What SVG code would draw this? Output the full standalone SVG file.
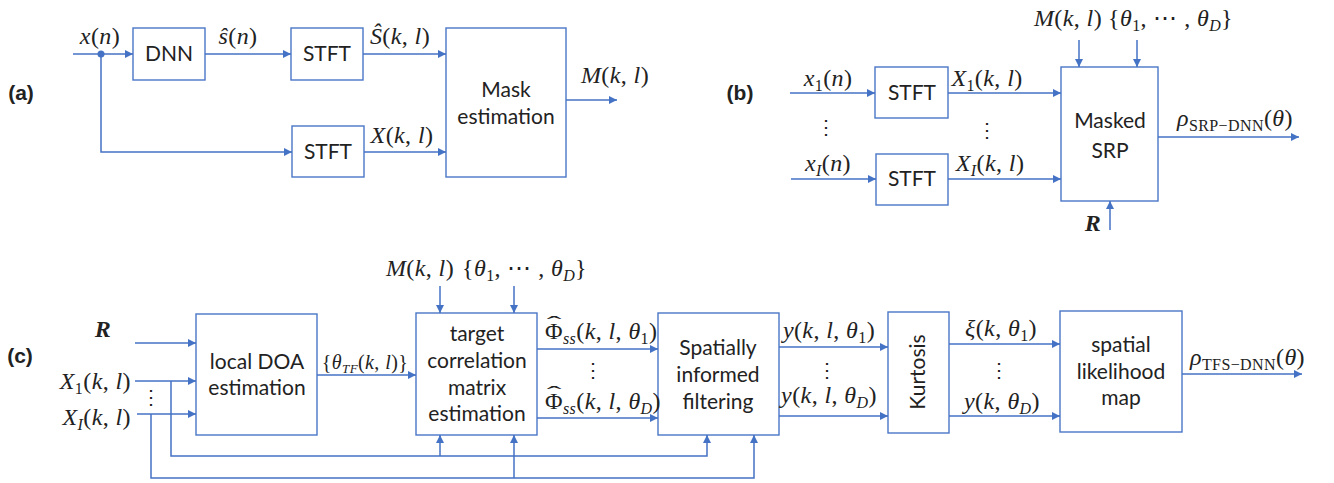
<svg xmlns="http://www.w3.org/2000/svg" width="1334" height="483" viewBox="0 0 1334 483">
  <style>
    .box { fill: #ffffff; stroke: #4a76c6; stroke-width: 1.4; }
    .wire { fill: none; stroke: #4472c4; stroke-width: 1.5; }
    .arr { marker-end: url(#head); }
    .lbl { font-family: Lato, "Liberation Sans", sans-serif; font-size: 21px; fill: #222222; text-anchor: middle; }
    .tag { font-family: "Liberation Sans", Arial, sans-serif; font-size: 21px; font-weight: bold; fill: #222222; text-anchor: middle; }
    .m { font-family: "Liberation Serif", "DejaVu Serif", serif; font-size: 24px; letter-spacing: 0.4px; fill: #222222; }
    .i { font-style: italic; }
    .s { font-size: 16px; }
    .sub { font-size: 16px; font-style: italic; }
    .c { text-anchor: middle; }
    .e { text-anchor: end; }
    .b { font-weight: bold; font-style: italic; }
    .hat { font-family: "Liberation Serif", serif; font-size: 22px; fill: #222222; text-anchor: middle; }
  </style>
  <defs>
    <marker id="head" viewBox="0 0 10 10" refX="10" refY="5" markerUnits="userSpaceOnUse" markerWidth="9" markerHeight="8" orient="auto">
      <path d="M0,0 L10,5 L0,10 z" fill="#4472c4"/>
    </marker>
  </defs>

  <!-- panel tags -->
  <text class="tag" x="21" y="100">(a)</text>
  <text class="tag" x="740" y="100">(b)</text>
  <text class="tag" x="20" y="363">(c)</text>

  <!-- ===== (a) mask estimation ===== -->
  <g id="a-dnn"><rect class="box" x="133" y="28" width="72" height="52"/><text class="lbl" x="169" y="61">DNN</text></g>
  <g id="a-stft1"><rect class="box" x="291" y="28" width="72" height="52"/><text class="lbl" x="327" y="61">STFT</text></g>
  <g id="a-stft2"><rect class="box" x="292" y="126" width="72" height="51"/><text class="lbl" x="328" y="159">STFT</text></g>
  <g id="a-mask"><rect class="box" x="446" y="28" width="120" height="149"/><text class="lbl" x="506" y="97">Mask</text><text class="lbl" x="506" y="124">estimation</text></g>

  <g id="a-labels">
    <text class="m c" x="100" y="44"><tspan class="i">x</tspan>(<tspan class="i">n</tspan>)</text>
    <text class="m c" x="238" y="44"><tspan class="i">ŝ</tspan>(<tspan class="i">n</tspan>)</text>
    <text class="m c" x="400" y="44"><tspan class="i">Ŝ</tspan>(<tspan class="i">k</tspan>, <tspan class="i">l</tspan>)</text>
    <text class="m c" x="402" y="143"><tspan class="i">X</tspan>(<tspan class="i">k</tspan>, <tspan class="i">l</tspan>)</text>
    <text class="m c" x="615" y="83"><tspan class="i">M</tspan>(<tspan class="i">k</tspan>, <tspan class="i">l</tspan>)</text>
  </g>

  <!-- ===== (b) masked SRP ===== -->
  <g id="b-stft1"><rect class="box" x="875" y="67" width="73" height="51"/><text class="lbl" x="912" y="100">STFT</text></g>
  <g id="b-stft2"><rect class="box" x="876" y="154" width="72" height="51"/><text class="lbl" x="912" y="186">STFT</text></g>
  <g id="b-srp"><rect class="box" x="1061" y="67" width="97" height="134"/><text class="lbl" x="1110" y="128">Masked</text><text class="lbl" x="1110" y="158">SRP</text></g>

  <g id="b-labels">
    <text class="m c" x="828" y="86"><tspan class="i">x</tspan><tspan class="s" dy="5">1</tspan><tspan dy="-5">(</tspan><tspan class="i">n</tspan>)</text>
    <text class="m c" x="828" y="171"><tspan class="i">x</tspan><tspan class="sub" dy="5">I</tspan><tspan dy="-5">(</tspan><tspan class="i">n</tspan>)</text>
    <text class="m c" x="987" y="86"><tspan class="i">X</tspan><tspan class="s" dy="5">1</tspan><tspan dy="-5">(</tspan><tspan class="i">k</tspan>, <tspan class="i">l</tspan>)</text>
    <text class="m c" x="990" y="171"><tspan class="i">X</tspan><tspan class="sub" dy="5">I</tspan><tspan dy="-5">(</tspan><tspan class="i">k</tspan>, <tspan class="i">l</tspan>)</text>
    <text class="m c" x="826" y="134" style="font-size:20px">⋮</text>
    <text class="m c" x="987" y="137" style="font-size:20px">⋮</text>
    <text class="m c" x="1068" y="26"><tspan class="i">M</tspan>(<tspan class="i">k</tspan>, <tspan class="i">l</tspan>)</text>
    <text class="m" x="1108" y="26">{<tspan class="i">θ</tspan><tspan class="s" dy="5">1</tspan><tspan dy="-5">, ⋯ , </tspan><tspan class="i">θ</tspan><tspan class="sub" dy="5">D</tspan><tspan dy="-5">}</tspan></text>
    <text class="m c b" x="1093" y="231">R</text>
    <text class="m" x="1177" y="126"><tspan class="i">ρ</tspan><tspan class="s" dy="5">SRP−DNN</tspan><tspan dy="-5">(</tspan><tspan class="i">θ</tspan>)</text>
  </g>

  <!-- ===== (c) TF-selective pipeline ===== -->
  <g id="c-doa"><rect class="box" x="196" y="314" width="121" height="121"/><text class="lbl" x="257" y="369">local DOA</text><text class="lbl" x="257" y="395">estimation</text></g>
  <g id="c-target"><rect class="box" x="416" y="313" width="121" height="122"/><text class="lbl" x="477" y="341">target</text><text class="lbl" x="477" y="368">correlation</text><text class="lbl" x="477" y="395">matrix</text><text class="lbl" x="477" y="421">estimation</text></g>
  <g id="c-filter"><rect class="box" x="658" y="313" width="121" height="122"/><text class="lbl" x="718" y="355">Spatially</text><text class="lbl" x="718" y="382">informed</text><text class="lbl" x="718" y="409">filtering</text></g>
  <g id="c-kurt"><rect class="box" x="888" y="312" width="61" height="121"/><text class="lbl" transform="translate(925,372) rotate(-90)" x="0" y="0">Kurtosis</text></g>
  <g id="c-map"><rect class="box" x="1060" y="311" width="122" height="121"/><text class="lbl" x="1121" y="352">spatial</text><text class="lbl" x="1121" y="379">likelihood</text><text class="lbl" x="1121" y="405">map</text></g>

  <g id="c-labels">
    <text class="m c b" x="103" y="337">R</text>
    <text class="m e" x="131" y="389"><tspan class="i">X</tspan><tspan class="s" dy="5">1</tspan><tspan dy="-5">(</tspan><tspan class="i">k</tspan>, <tspan class="i">l</tspan>)</text>
    <text class="m e" x="131" y="425"><tspan class="i">X</tspan><tspan class="sub" dy="5">I</tspan><tspan dy="-5">(</tspan><tspan class="i">k</tspan>, <tspan class="i">l</tspan>)</text>
    <text class="m c" x="151" y="404" style="font-size:20px">⋮</text>
    <text class="m c" x="420" y="276"><tspan class="i">M</tspan>(<tspan class="i">k</tspan>, <tspan class="i">l</tspan>)</text>
    <text class="m" x="462" y="276">{<tspan class="i">θ</tspan><tspan class="s" dy="5">1</tspan><tspan dy="-5">, ⋯ , </tspan><tspan class="i">θ</tspan><tspan class="sub" dy="5">D</tspan><tspan dy="-5">}</tspan></text>
    <text class="m c" x="365" y="369" style="font-size:20px">{<tspan class="i">θ</tspan><tspan class="sub" dy="4" style="font-size:13px">TF</tspan><tspan dy="-4">(</tspan><tspan class="i">k</tspan>, <tspan class="i">l</tspan>)}</text>
    <!-- hatted Phi: base glyph plus a widened circumflex above it -->
    <text class="m" x="545" y="339">Φ<tspan class="sub" dy="5">ss</tspan><tspan dy="-5">(</tspan><tspan class="i">k</tspan>, <tspan class="i">l</tspan>, <tspan class="i">θ</tspan><tspan class="s" dy="5">1</tspan><tspan dy="-5">)</tspan></text>
    <text class="hat" transform="translate(554,331) scale(2,1)">ˆ</text>
    <text class="m" x="545" y="409">Φ<tspan class="sub" dy="5">ss</tspan><tspan dy="-5">(</tspan><tspan class="i">k</tspan>, <tspan class="i">l</tspan>, <tspan class="i">θ</tspan><tspan class="sub" dy="5">D</tspan><tspan dy="-5">)</tspan></text>
    <text class="hat" transform="translate(554,401) scale(2,1)">ˆ</text>
    <text class="m c" x="593" y="377" style="font-size:20px">⋮</text>
    <text class="m c" x="829" y="338"><tspan class="i">y</tspan>(<tspan class="i">k</tspan>, <tspan class="i">l</tspan>, <tspan class="i">θ</tspan><tspan class="s" dy="5">1</tspan><tspan dy="-5">)</tspan></text>
    <text class="m c" x="829" y="403"><tspan class="i">y</tspan>(<tspan class="i">k</tspan>, <tspan class="i">l</tspan>, <tspan class="i">θ</tspan><tspan class="sub" dy="5">D</tspan><tspan dy="-5">)</tspan></text>
    <text class="m c" x="827" y="377" style="font-size:20px">⋮</text>
    <text class="m c" x="1001" y="336"><tspan class="i">ξ</tspan>(<tspan class="i">k</tspan>, <tspan class="i">θ</tspan><tspan class="s" dy="5">1</tspan><tspan dy="-5">)</tspan></text>
    <text class="m c" x="1002" y="409"><tspan class="i">y</tspan>(<tspan class="i">k</tspan>, <tspan class="i">θ</tspan><tspan class="sub" dy="5">D</tspan><tspan dy="-5">)</tspan></text>
    <text class="m c" x="999" y="377" style="font-size:20px">⋮</text>
    <text class="m" x="1190" y="365"><tspan class="i">ρ</tspan><tspan class="s" dy="5">TFS−DNN</tspan><tspan dy="-5">(</tspan><tspan class="i">θ</tspan>)</text>
  </g>

  <!-- all connectors -->
  <g id="connectors">
    <!-- (a) -->
    <path class="wire arr" d="M73,54 H133"/>
    <circle cx="101" cy="54" r="3.5" fill="#4472c4"/>
    <path class="wire arr" d="M205,54 H291"/>
    <path class="wire arr" d="M363,54 H446"/>
    <path class="wire arr" d="M101,54 V152 H292"/>
    <path class="wire arr" d="M364,152 H446"/>
    <path class="wire arr" d="M566,100 H617"/>
    <!-- (b) -->
    <path class="wire arr" d="M790,93 H875"/>
    <path class="wire arr" d="M791,179 H876"/>
    <path class="wire arr" d="M948,93 H1061"/>
    <path class="wire arr" d="M948,179 H1061"/>
    <path class="wire arr" d="M1079,40 V67"/>
    <path class="wire arr" d="M1137,40 V67"/>
    <path class="wire arr" d="M1110,230 V201"/>
    <path class="wire arr" d="M1158,137 H1299"/>
    <!-- (c) -->
    <path class="wire arr" d="M135,343 H196"/>
    <path class="wire arr" d="M135,381 H196"/>
    <path class="wire arr" d="M137,414 H196"/>
    <path class="wire arr" d="M171,381 V456 H707 V435"/>
    <path class="wire arr" d="M440,456 V435"/>
    <path class="wire arr" d="M151,414 V478 H754 V435"/>
    <path class="wire arr" d="M514,478 V435"/>
    <path class="wire arr" d="M440,286 V313"/>
    <path class="wire arr" d="M514,286 V313"/>
    <path class="wire arr" d="M317,375 H416"/>
    <path class="wire arr" d="M537,349 H658"/>
    <path class="wire arr" d="M537,418 H658"/>
    <path class="wire arr" d="M779,347 H888"/>
    <path class="wire arr" d="M779,416 H888"/>
    <path class="wire arr" d="M949,344 H1060"/>
    <path class="wire arr" d="M949,416 H1060"/>
    <path class="wire arr" d="M1182,374 H1302"/>
  </g>
</svg>
